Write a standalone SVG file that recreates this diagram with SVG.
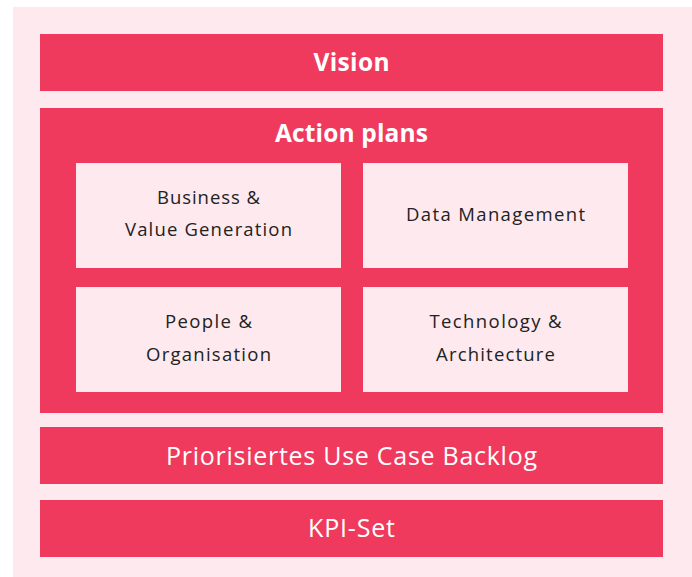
<svg xmlns="http://www.w3.org/2000/svg" width="692" height="577" viewBox="0 0 692 577">
<style>
.red{fill:#EF3A5D}
.pink{fill:#FDE9EE}
.wt{fill:#ffffff;font-family:"Open Sans","Liberation Sans",sans-serif;text-anchor:middle}
.b{font-weight:700;font-size:24.5px}
.r{font-size:25px}
.dt{fill:#222222;font-family:"Open Sans","Liberation Sans",sans-serif;font-size:18.5px;text-anchor:middle}
</style>
<rect x="0" y="0" width="692" height="577" fill="#ffffff"/>
<rect class="pink" x="13" y="7" width="679" height="570"/>
<g id="vision">
<rect class="red" x="40" y="34" width="623" height="57"/>
<text class="wt b" x="351.5" y="71" textLength="76" lengthAdjust="spacing">Vision</text>
</g>
<g id="action-plans">
<rect class="red" x="40" y="108" width="623" height="305"/>
<text class="wt b" x="351.5" y="142" textLength="153" lengthAdjust="spacing">Action plans</text>
</g>
<g id="business">
<rect class="pink" x="76" y="163" width="265" height="105"/>
<text class="dt" x="208.5" y="204" textLength="103" lengthAdjust="spacing">Business &amp;</text>
<text class="dt" x="208.5" y="236" textLength="167" lengthAdjust="spacing">Value Generation</text>
</g>
<g id="data">
<rect class="pink" x="363" y="163" width="265" height="105"/>
<text class="dt" x="495.5" y="221" textLength="179" lengthAdjust="spacing">Data Management</text>
</g>
<g id="people">
<rect class="pink" x="76" y="287" width="265" height="105"/>
<text class="dt" x="208.5" y="328" textLength="87" lengthAdjust="spacing">People &amp;</text>
<text class="dt" x="208.5" y="361" textLength="125" lengthAdjust="spacing">Organisation</text>
</g>
<g id="technology">
<rect class="pink" x="363" y="287" width="265" height="105"/>
<text class="dt" x="495.5" y="328" textLength="132" lengthAdjust="spacing">Technology &amp;</text>
<text class="dt" x="495.5" y="361" textLength="119" lengthAdjust="spacing">Architecture</text>
</g>
<g id="backlog">
<rect class="red" x="40" y="427" width="623" height="57"/>
<text class="wt r" x="351.5" y="465" textLength="371" lengthAdjust="spacing">Priorisiertes Use Case Backlog</text>
</g>
<g id="kpi">
<rect class="red" x="40" y="500" width="623" height="57"/>
<text class="wt r" x="351.5" y="537" textLength="87" lengthAdjust="spacing">KPI-Set</text>
</g>
<g id="connectors"></g>
</svg>
